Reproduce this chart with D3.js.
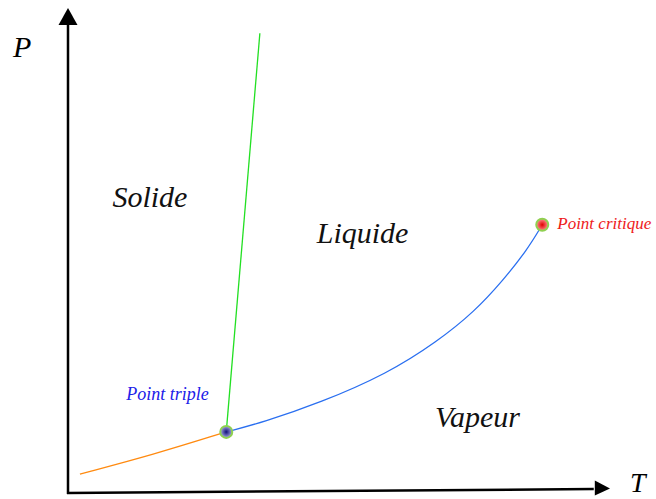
<!DOCTYPE html>
<html>
<head>
<meta charset="utf-8">
<script src="https://cdn.jsdelivr.net/npm/d3@7"></script>
<style>
  body { margin: 0; background: #fff; }
  svg { display: block; }
</style>
</head>
<body>
<div id="chart"></div>
<script>
// diagramme de phase (schéma), unités arbitraires 0..100
const fusionT = [29.2, 35.4];
const fusionP = [12.6, 94.8];

const sublimationT = [2.2, 15.7, 29.2];
const sublimationP = [3.9, 7.9, 12.6];

const vaporisationT = [29.2, 36.0, 46.5, 58.9, 68.1, 75.0, 80.3, 84.7, 87.5];
const vaporisationP = [12.6, 14.6, 18.6, 24.6, 31.2, 37.4, 43.9, 50.1, 55.3];

const specialPoints = [
    { name: "Point triple", T: 29.2, P: 12.6 },
    { name: "Point critique", T: 87.5, P: 55.3 }
];

const phaseLabels = [
    { name: "Solide", T: 8.2, P: 59.0 },
    { name: "Liquide", T: 45.9, P: 51.6 },
    { name: "Vapeur", T: 67.7, P: 13.6 }
];

const WIDTH = 656, HEIGHT = 499;
const margin = { left: 68, right: 46, top: 8, bottom: 6 };

const xScale = d3.scaleLinear().domain([0, 100]).range([margin.left, WIDTH - margin.right]);
const yScale = d3.scaleLinear().domain([0, 100]).range([HEIGHT - margin.bottom, margin.top]);

const svg = d3.select("#chart").append("svg")
    .attr("width", WIDTH)
    .attr("height", HEIGHT);

const defs = svg.append("defs");
const gradBlue = defs.append("radialGradient").attr("id", "gTriple");
gradBlue.append("stop").attr("offset", "0%").attr("stop-color", "#10107a");
gradBlue.append("stop").attr("offset", "100%").attr("stop-color", "#a8a8e0");
const gradRed = defs.append("radialGradient").attr("id", "gCritique");
gradRed.append("stop").attr("offset", "0%").attr("stop-color", "#e00000");
gradRed.append("stop").attr("offset", "100%").attr("stop-color", "#ff9090");

// axes avec flèches
const x0 = xScale(0), y0 = yScale(0);
svg.append("line")
    .attr("x1", x0).attr("y1", y0 + 1)
    .attr("x2", x0).attr("y2", yScale(97))
    .attr("stroke", "#000").attr("stroke-width", 2.5);
svg.append("path")
    .attr("d", `M${x0},${yScale(100)} L${x0 - 9.5},${yScale(96.5)} L${x0 + 9.5},${yScale(96.5)} Z`)
    .attr("fill", "#000");

svg.append("line")
    .attr("x1", x0 - 1).attr("y1", y0)
    .attr("x2", xScale(97)).attr("y2", y0 - 4)
    .attr("stroke", "#000").attr("stroke-width", 2.5);
svg.append("path")
    .attr("d", `M${xScale(100)},${y0 - 4.5} L${xScale(97.2)},${y0 - 4.5 - 8} L${xScale(97.2)},${y0 - 4.5 + 7} Z`)
    .attr("fill", "#000");

// courbes
const line = d3.line()
    .x((d) => xScale(d[0]))
    .y((d) => yScale(d[1]))
    .curve(d3.curveBasis);

const zip = (a, b) => a.map((v, i) => [v, b[i]]);

svg.append("path")
    .datum(zip(sublimationT, sublimationP))
    .attr("d", line)
    .attr("fill", "none").attr("stroke", "#ff8a10").attr("stroke-width", 1.3);

svg.append("path")
    .datum(zip(vaporisationT, vaporisationP))
    .attr("d", line)
    .attr("fill", "none").attr("stroke", "#2a6ff0").attr("stroke-width", 1.3);

svg.append("path")
    .datum(zip(fusionT, fusionP))
    .attr("d", d3.line().x((d) => xScale(d[0])).y((d) => yScale(d[1])))
    .attr("fill", "none").attr("stroke", "#22e022").attr("stroke-width", 1.3);

// points remarquables
svg.selectAll("circle.special")
    .data(specialPoints)
    .join("circle")
    .attr("class", "special")
    .attr("cx", (d) => xScale(d.T))
    .attr("cy", (d) => yScale(d.P))
    .attr("r", 6)
    .attr("fill", (d, i) => i === 0 ? "url(#gTriple)" : "url(#gCritique)")
    .attr("stroke", "#8fd050")
    .attr("stroke-width", 2);

const font = "'Liberation Serif', 'Times New Roman', serif";

svg.append("text")
    .attr("x", xScale(specialPoints[0].T) - 100)
    .attr("y", yScale(specialPoints[0].P) - 32)
    .attr("font-family", font).attr("font-style", "italic").attr("font-size", 18)
    .attr("fill", "#2020e8")
    .text(specialPoints[0].name);

svg.append("text")
    .attr("x", xScale(specialPoints[1].T) + 15)
    .attr("y", yScale(specialPoints[1].P) + 4)
    .attr("font-family", font).attr("font-style", "italic").attr("font-size", 17)
    .attr("fill", "#ee1a1a")
    .text(specialPoints[1].name);

// régions
svg.selectAll("text.phase")
    .data(phaseLabels)
    .join("text")
    .attr("class", "phase")
    .attr("x", (d) => xScale(d.T))
    .attr("y", (d) => yScale(d.P))
    .attr("font-family", font).attr("font-style", "italic").attr("font-size", 30)
    .attr("fill", "#111")
    .text((d) => d.name);

// titres des axes
svg.append("text")
    .attr("x", 13).attr("y", 57)
    .attr("font-family", font).attr("font-style", "italic").attr("font-size", 30)
    .text("P");

svg.append("text")
    .attr("x", 630).attr("y", 492)
    .attr("font-family", font).attr("font-style", "italic").attr("font-size", 28)
    .text("T");
</script>
</body>
</html>
